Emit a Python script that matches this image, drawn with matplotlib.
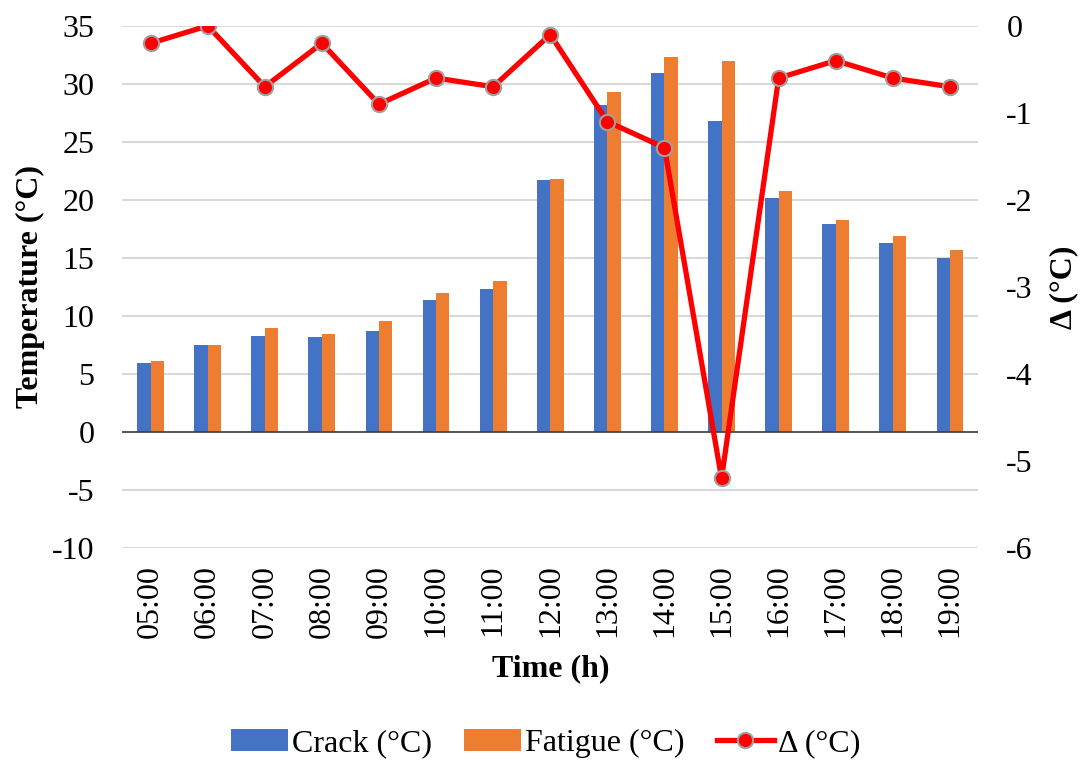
import matplotlib
matplotlib.use("Agg")
import matplotlib.pyplot as plt
import numpy as np
from matplotlib.lines import Line2D
from matplotlib.patches import Patch

plt.rcParams['font.family'] = ['Liberation Serif', 'DejaVu Serif']
plt.rcParams['axes.unicode_minus'] = False

hours = ["05:00", "06:00", "07:00", "08:00", "09:00", "10:00", "11:00", "12:00",
         "13:00", "14:00", "15:00", "16:00", "17:00", "18:00", "19:00"]
crack = [5.9, 7.5, 8.3, 8.2, 8.7, 11.4, 12.3, 21.7, 28.2, 30.9, 26.8, 20.2, 17.9, 16.3, 15.0]
fatigue = [6.1, 7.5, 9.0, 8.4, 9.6, 12.0, 13.0, 21.8, 29.3, 32.3, 32.0, 20.8, 18.3, 16.9, 15.7]
delta = [-0.2, 0.0, -0.7, -0.2, -0.9, -0.6, -0.7, -0.1, -1.1, -1.4, -5.2, -0.6, -0.4, -0.6, -0.7]

blue = "#4472C4"
orange = "#ED7D31"
red = "#FF0000"

fig = plt.figure(figsize=(10.8, 7.6), dpi=100)
ax = fig.add_axes([0.113, 0.279, 0.793, 0.687])

x = np.arange(len(hours))
w = 0.235
ax.bar(x - w / 2, crack, width=w, color=blue, zorder=2)
ax.bar(x + w / 2, fatigue, width=w, color=orange, zorder=2)

ax.set_xlim(-0.5, len(hours) - 0.5)
ax.set_ylim(-10, 35)
ax.set_yticks(np.arange(-10, 36, 5))
ax.yaxis.grid(True, color="#D9D9D9", linewidth=1.5, zorder=0)
ax.set_axisbelow(True)
ax.axhline(0, color="#404040", linewidth=1.2, zorder=3)
for s in ax.spines.values():
    s.set_visible(False)
ax.tick_params(axis='both', length=0, labelsize=23)
ax.tick_params(axis='y', pad=20)
ax.set_xticks(x)
ax.set_xticklabels(hours, rotation=90)
ax.tick_params(axis='x', pad=12)
ax.set_ylabel("Temperature (°C)", fontsize=23, fontweight='bold', labelpad=5)
ax.set_xlabel("Time (h)", fontsize=23, fontweight='bold', labelpad=12)

ax2 = ax.twinx()
ax2.plot(x, delta, color=red, linewidth=3.8, marker='o', markersize=11,
         markerfacecolor=red, markeredgecolor="#A0A0A0", markeredgewidth=1.5,
         zorder=5)
ax2.set_ylim(-6, 0)
ax2.set_yticks(np.arange(-6, 1, 1))
for s in ax2.spines.values():
    s.set_visible(False)
ax2.tick_params(axis='y', length=0, labelsize=23, pad=20)
ax2.set_ylabel("Δ (°C)", fontsize=23, fontweight='bold', labelpad=12)

handles = [
    Patch(facecolor=blue, label="Crack (°C)"),
    Patch(facecolor=orange, label="Fatigue (°C)"),
    Line2D([0], [0], color=red, linewidth=3.8, marker='o', markersize=11,
           markerfacecolor=red, markeredgecolor="#A0A0A0", markeredgewidth=1.5,
           label="Δ (°C)"),
]
fig.legend(handles=handles, loc='center', bbox_to_anchor=(0.505, 0.022),
           ncol=3, frameon=False, fontsize=23, handlelength=1.8,
           handleheight=0.7, columnspacing=1.0, handletextpad=0.12)

fig.savefig("out.png", dpi=100)
